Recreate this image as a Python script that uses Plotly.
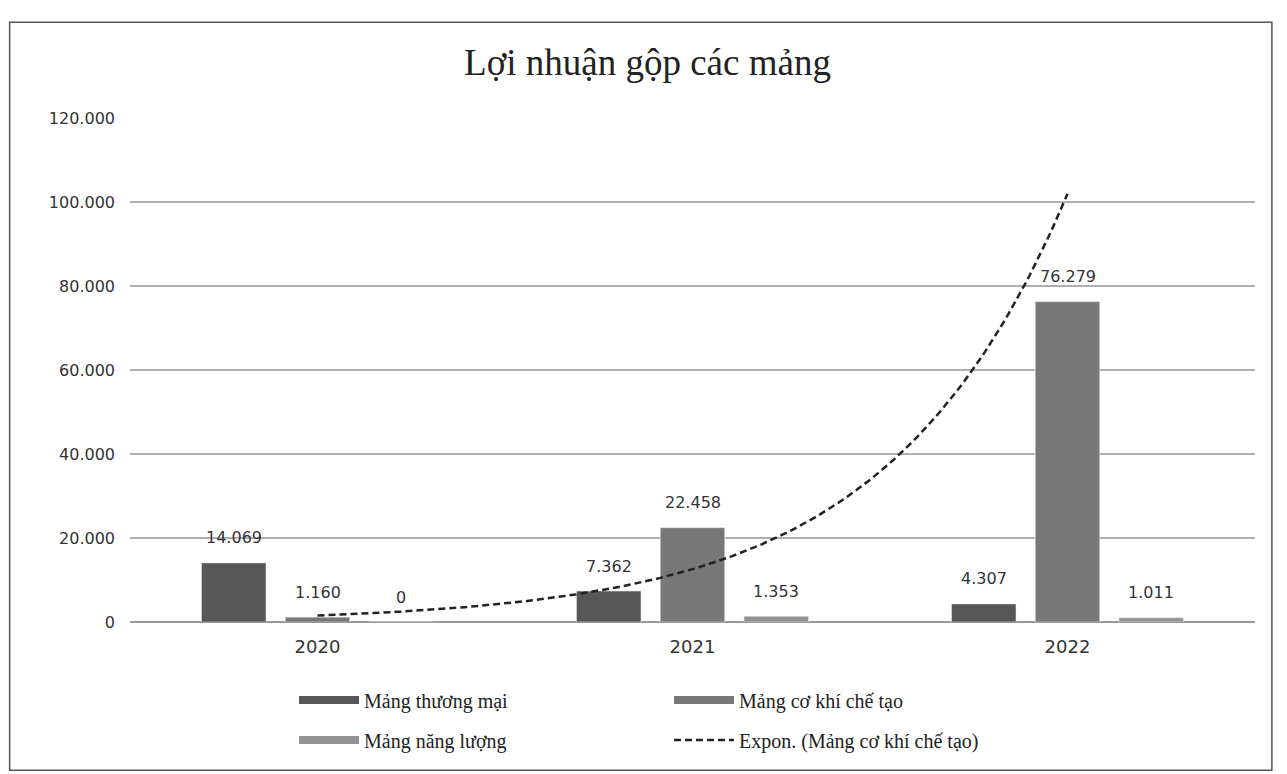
import numpy as np
import plotly.graph_objects as go

years = ["2020", "2021", "2022"]
x_pos = [1, 2, 3]
thuong_mai = [14069, 7362, 4307]
co_khi = [1160, 22458, 76279]
nang_luong = [0, 1353, 1011]
y_ticks = [0, 20000, 40000, 60000, 80000, 100000, 120000]

names = ["Mảng thương mại", "Mảng cơ khí chế tạo", "Mảng năng lượng"]
colors = ["#575757", "#787878", "#939393"]
series = [thuong_mai, co_khi, nang_luong]

BARGAP = 0.33
GROUPGAP = 0.23
slot = (1 - BARGAP) / len(series)

# Exponential trendline (least-squares fit on ln y), as Excel does
b, ln_a = np.polyfit(x_pos, np.log(co_khi), 1)
xt = np.linspace(1, 3, 200)
yt = np.exp(ln_a + b * xt)

sans = "DejaVu Sans, Verdana, sans-serif"
serif = "Liberation Serif, Times New Roman, serif"

fig = go.Figure()
annotations = []
for i, (nm, col, vals) in enumerate(zip(names, colors, series)):
    fig.add_bar(x=x_pos, y=vals, name=nm, marker_color=col, showlegend=False,
                legendgroup=nm)
    off = (i - 1) * slot
    for xp, v in zip(x_pos, vals):
        annotations.append(dict(x=xp + off, y=v, xref="x", yref="y",
                                text=f"{v:,}".replace(",", "."), showarrow=False,
                                yanchor="middle", yshift=25,
                                font=dict(family=sans, size=16, color="#333333")))

# legend proxies (wide swatches like the original)
legend_of = {names[0]: "legend", names[1]: "legend", names[2]: "legend2"}
for nm, col in zip(names, colors):
    fig.add_scatter(x=[None], y=[None], mode="lines", name=nm, legendgroup=nm,
                    line=dict(color=col, width=8), legend=legend_of[nm])

fig.add_scatter(x=xt, y=yt, mode="lines", name="Expon. (Mảng cơ khí chế tạo)",
                line=dict(color="#222222", width=2.5, dash="7px,4px"),
                legend="legend2")

leg_common = dict(orientation="h", xanchor="left", yanchor="middle",
                  entrywidth=300, entrywidthmode="pixels", traceorder="normal",
                  itemwidth=60, bgcolor="rgba(0,0,0,0)",
                  font=dict(family=serif, size=20, color="#222222"))

fig.update_layout(
    width=1279, height=766,
    separators=",.",
    paper_bgcolor="white", plot_bgcolor="white",
    margin=dict(l=122, r=32, t=110, b=152),
    barmode="group", bargap=BARGAP, bargroupgap=GROUPGAP,
    title=dict(text="Lợi nhuận gộp các mảng", x=0.5, xanchor="center", y=0.93, yanchor="middle",
               font=dict(family=serif, size=37, color="#222222")),
    xaxis=dict(range=[0.5, 3.5], tickvals=x_pos, ticktext=years, showgrid=False,
               zeroline=False, showline=False, ticks="", ticklabelstandoff=12,
               tickfont=dict(family=sans, size=18, color="#333333")),
    yaxis=dict(range=[0, 120000], tickvals=y_ticks, tickformat=",", showgrid=True,
               gridcolor="#b0b0b0", gridwidth=1.5, zeroline=True, zerolinecolor="#999999",
               zerolinewidth=1.5, showline=False, ticks="", ticklabelstandoff=14,
               tickfont=dict(family=sans, size=16, color="#333333")),
    showlegend=True,
    legend=dict(x=0.1458, y=-0.1548, **leg_common),
    legend2=dict(x=0.1458, y=-0.2341, **leg_common),
    annotations=annotations,
    shapes=[dict(type="rect", xref="paper", yref="paper", x0=-0.107, x1=1.015, y0=-0.294, y1=1.19,
                 line=dict(color="#555555", width=1.5), fillcolor="rgba(0,0,0,0)", layer="below")],
)

fig.write_html("out.html")
